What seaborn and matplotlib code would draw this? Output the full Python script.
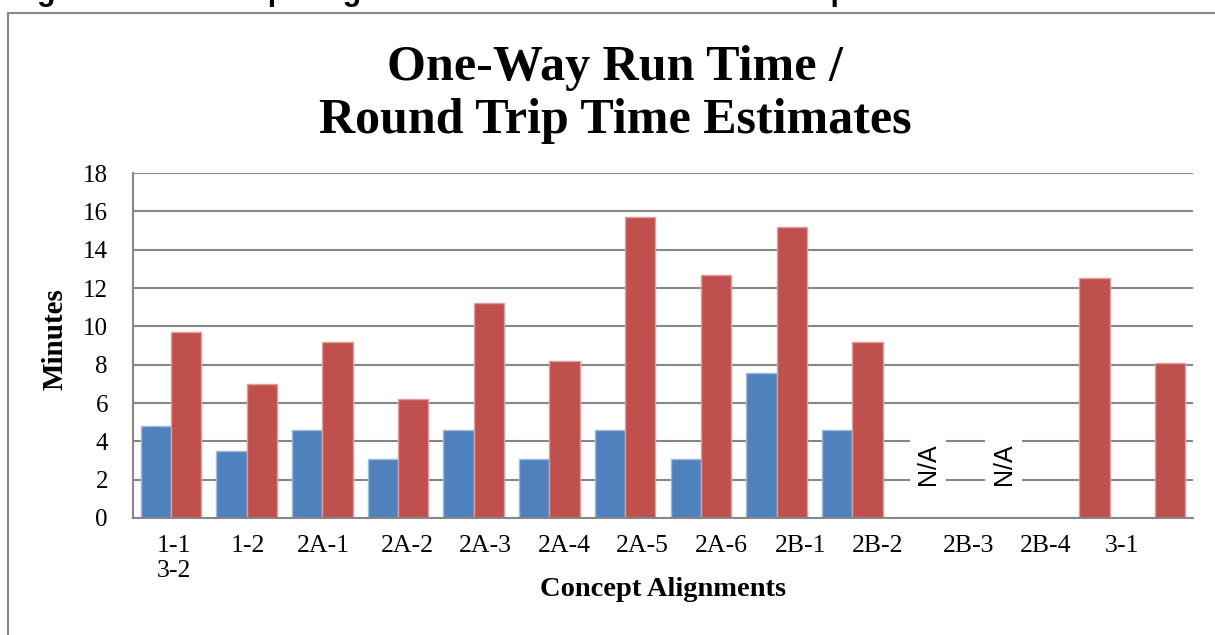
import matplotlib
matplotlib.use("Agg")
import matplotlib.pyplot as plt
from matplotlib.patches import Rectangle
import matplotlib.colors as mcolors
import seaborn as sns
import pandas as pd
import numpy as np

# chart data
alignments = ["1-1\n3-2", "1-2", "2A-1", "2A-2", "2A-3", "2A-4", "2A-5",
              "2A-6", "2B-1", "2B-2", "2B-3", "2B-4", "3-1", "extra"]
tick_labels = ["1-1\n3-2", "1-2", "2A-1", "2A-2", "2A-3", "2A-4", "2A-5",
               "2A-6", "2B-1", "2B-2", "2B-3", "2B-4", "3-1"]
one_way = [4.8, 3.5, 4.6, 3.1, 4.6, 3.1, 4.6, 3.1, 7.55, 4.6,
           np.nan, np.nan, np.nan, np.nan]
round_trip = [9.7, 7.0, 9.2, 6.2, 11.2, 8.2, 15.7, 12.7, 15.2, 9.2,
              np.nan, np.nan, 12.5, 8.1]
not_available = ["2B-3", "2B-4"]
measures = ["One-Way Run Time", "Round Trip Time"]
yticks = [0, 2, 4, 6, 8, 10, 12, 14, 16, 18]

# the category labels sit a little right of the bar groups in the original
label_shift = [0.04, 0.02, 0.01, 0.13, 0.16, 0.20, 0.23, 0.27, 0.32, 0.34,
               0.53, 0.56, 0.56]

df = pd.DataFrame({
    "alignment": alignments * 2,
    "measure": [measures[0]] * len(alignments) + [measures[1]] * len(alignments),
    "minutes": one_way + round_trip,
}).dropna()

sns.set_style("white")
plt.rcParams["font.family"] = ["Liberation Serif", "DejaVu Serif"]
plt.rcParams["text.color"] = "black"
plt.rcParams["axes.labelcolor"] = "black"
plt.rcParams["xtick.color"] = "black"
plt.rcParams["ytick.color"] = "black"

blue = "#4F81BD"
red = "#C0504D"
grey = "#878787"

W, H = 1215, 635
fig = plt.figure(figsize=(W / 100, H / 100), dpi=100)
ax = fig.add_axes([133 / W, 1 - 518 / H, (1193 - 133) / W, (518 - 173) / H])

sns.barplot(data=df, x="alignment", y="minutes", hue="measure",
            order=alignments, hue_order=measures, palette=[blue, red],
            saturation=1, width=0.8, legend=False, ax=ax)

# light outline around each bar
for p in ax.patches:
    fc = np.array(mcolors.to_rgb(p.get_facecolor()))
    p.set_edgecolor(tuple(0.55 * fc + 0.45))
    p.set_linewidth(1.0)

ax.set_ylim(0, 18)
ax.set_xlim(-0.5, len(alignments) - 0.5)
ax.set_yticks(yticks)
ax.set_xticks([i + s for i, s in enumerate(label_shift)])
ax.set_xticklabels(tick_labels)

ax.yaxis.grid(True, color=grey, lw=1.5)
ax.xaxis.grid(False)
ax.set_axisbelow(True)
for side in ["top", "right"]:
    ax.spines[side].set_visible(False)
for side in ["left", "bottom"]:
    ax.spines[side].set_color(grey)
    ax.spines[side].set_linewidth(1.5)

ax.tick_params(axis="y", direction="out", length=6, width=1.5, color=grey,
               labelsize=18, pad=12)
ax.tick_params(axis="x", length=0, labelsize=18.5, pad=12)

# N/A markers for alignments without data
for name in not_available:
    ax.text(alignments.index(name), 2.8, "N/A", rotation=90, ha="center",
            va="center", fontsize=18, family=["Liberation Sans", "DejaVu Sans"],
            bbox=dict(facecolor="white", edgecolor="none", pad=4.5))

ax.set_xlabel("Concept Alignments", fontsize=20.5, fontweight="bold")
ax.xaxis.set_label_coords(0.5, -0.172)
ax.set_ylabel("Minutes", fontsize=21, fontweight="bold")
ax.yaxis.set_label_coords(-0.061, 0.52)

fig.text(615 / W, 1 - 80 / H, "One-Way Run Time /", ha="center",
         va="baseline", fontsize=36, fontweight="bold")
fig.text(615 / W, 1 - 133 / H, "Round Trip Time Estimates", ha="center",
         va="baseline", fontsize=36, fontweight="bold")

# caption of the page, mostly cut off by the top edge
fig.text(9.5 / W, 1 + 0.5 / H,
         "Figure 3-3: Concept Alignments Run Time and Round Trip Time Estimates",
         ha="left", va="baseline", fontsize=22, fontweight="bold",
         family=["Liberation Sans", "DejaVu Sans"])

# chart frame
fig.patches.append(Rectangle((8 / W, -0.1), 1.2, 1 - 13 / H + 0.1,
                             transform=fig.transFigure, fill=False,
                             edgecolor=grey, lw=1.5))

fig.savefig("out.png", dpi=100)
